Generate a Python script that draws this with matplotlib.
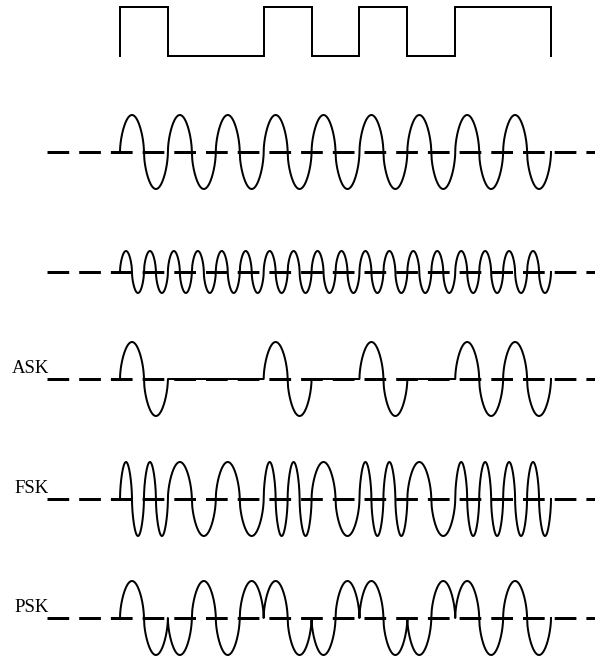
import numpy as np
import matplotlib
matplotlib.use("Agg")
import matplotlib.pyplot as plt

# ---- data ----
bits = [1, 0, 0, 1, 0, 1, 0, 1, 1]
row_labels = ["", "", "ASK", "FSK", "PSK"]
carrier_cycles = 1          # cycles per bit, carrier
fast_carrier_cycles = 2     # cycles per bit, second carrier
fsk_cycles = {1: 2, 0: 1}   # FSK: cycles per bit for 1 / 0
psk_sign = {1: 1, 0: -1}    # PSK: phase for 1 / 0
ask_gain = {1: 1, 0: 0}     # ASK: amplitude for 1 / 0

# ---- layout (pixel units) ----
W, H = 595, 657
X0, X1 = 120, 551
SQ_TOP, SQ_BOT = 7, 56
ROW_Y = [152, 272, 379, 499, 618]
ROW_AMP = [37, 21, 37, 37, 37]
DASH_X0 = 47
PX = 0.72  # px -> pt at 100 dpi

plt.rcParams["lines.scale_dashes"] = False
fig = plt.figure(figsize=(W / 100, H / 100), dpi=100)
ax = fig.add_axes([0, 0, 1, 1])
ax.set_xlim(0, W)
ax.set_ylim(H, 0)
ax.axis("off")

bw = (X1 - X0) / len(bits)


def shape(ph):
    s = np.sin(ph)
    return np.sign(s) * np.abs(s) ** 0.55


# square wave
xs, ys = [X0], [SQ_BOT]
for i, b in enumerate(bits):
    lvl = SQ_TOP if b else SQ_BOT
    xs += [X0 + i * bw, X0 + (i + 1) * bw]
    ys += [lvl, lvl]
xs.append(X1)
ys.append(SQ_BOT)
ax.plot(xs, ys, color="black", lw=2 * PX, solid_joinstyle="miter")


def bit_params(row, b):
    if row == 0:
        return carrier_cycles, 1
    if row == 1:
        return fast_carrier_cycles, 1
    if row == 2:
        return carrier_cycles, ask_gain[b]
    if row == 3:
        return fsk_cycles[b], 1
    return carrier_cycles, psk_sign[b]


for r, (yc, amp) in enumerate(zip(ROW_Y, ROW_AMP)):
    ax.plot([DASH_X0, W], [yc, yc], color="black", lw=3 * PX,
            dashes=(21.7 * PX, 10 * PX), zorder=1, solid_capstyle="butt",
            dash_capstyle="butt")
    xx, yy = [], []
    for i, b in enumerate(bits):
        cyc, g = bit_params(r, b)
        u = np.linspace(0, 1, 800)
        xx.append(X0 + (i + u) * bw)
        yy.append(yc - amp * g * shape(2 * np.pi * cyc * u))
    ax.plot(np.concatenate(xx), np.concatenate(yy), color="black",
            lw=2 * PX, zorder=2)
    if row_labels[r]:
        ax.text(49, yc - 6, row_labels[r], ha="right", va="baseline",
                fontsize=13.5, family="Liberation Serif", color="black")

fig.savefig("out.png", dpi=100)
